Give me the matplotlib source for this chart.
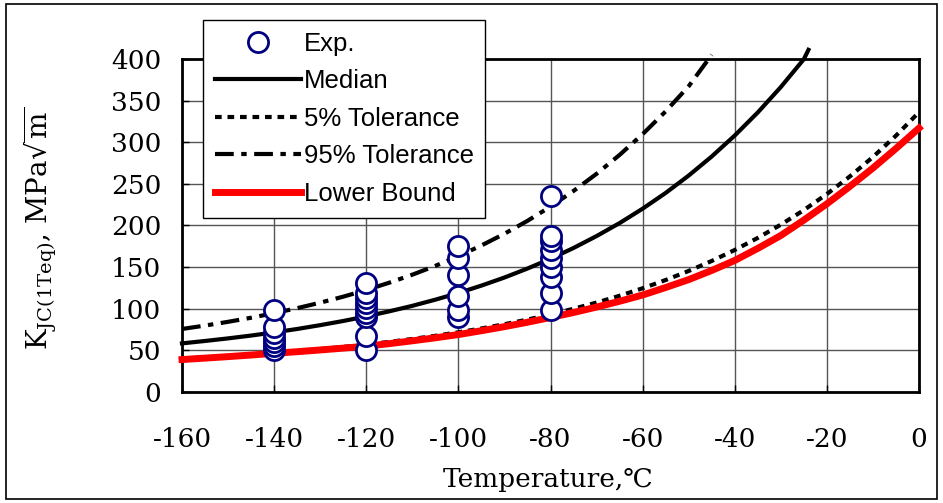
import matplotlib
matplotlib.use('Agg')
import matplotlib.pyplot as plt
from matplotlib.patches import Rectangle

# ---------------- data ----------------
temp_5 = list(range(-160, 1, 5))  # -160 ... 0 step 5

median_T = list(range(-160, -24, 5)) + [-24]
median_K = [58.4, 61.3, 64.4, 67.8, 71.6, 75.7, 80.3, 85.3, 90.8, 96.9,
            103.5, 110.9, 118.9, 127.8, 137.5, 148.3, 160.0, 173.0, 187.3, 202.9,
            220.2, 239.1, 260.0, 282.9, 308.1, 335.8, 366.3, 399.8, 411.0]

tol5_T = temp_5
tol5_K = [40.1, 41.6, 43.2, 45.0, 46.9, 49.1, 51.5, 54.1, 57.0, 60.2,
          63.7, 67.5, 71.7, 76.3, 81.4, 87.0, 93.2, 100.0, 107.4, 115.6,
          124.6, 134.5, 145.4, 157.4, 170.6, 185.1, 201.0, 218.5, 237.8, 259.0,
          282.3, 307.9, 336.1]

tol95_T = list(range(-160, -44, 5))
tol95_K = [75.7, 79.8, 84.3, 89.2, 94.7, 100.7, 107.3, 114.5, 122.5, 131.3,
           140.9, 151.5, 163.2, 176.0, 190.1, 205.6, 222.7, 241.5, 262.1, 284.8,
           309.7, 337.1, 367.3, 405.0]

lb_T = temp_5
lb_K = [39.0, 40.7, 42.5, 44.4, 46.5, 48.4, 50.5, 52.7, 55.0, 58.1,
        61.5, 65.1, 69.0, 73.6, 78.5, 83.8, 89.5, 95.5, 102.0, 109.0,
        116.5, 125.5, 135.0, 146.0, 158.0, 172.5, 188.0, 206.5, 226.0, 247.0,
        269.0, 292.5, 317.0]

exp_T = [-140] * 7 + [-120] * 9 + [-100] * 6 + [-80] * 9
exp_K = [50, 55, 60, 65, 71, 78, 98,
         51, 67, 90, 95, 101, 107, 113, 119, 131,
         90, 98, 115, 140, 161, 175,
         99, 119, 138, 150, 161, 171, 181, 187, 235]

x_ticks = [-160, -140, -120, -100, -80, -60, -40, -20, 0]
y_ticks = [0, 50, 100, 150, 200, 250, 300, 350, 400]

labels = ['Exp.', 'Median', '5% Tolerance', '95% Tolerance', 'Lower Bound']

# ---------------- figure ----------------
plt.rcParams['font.family'] = ['DejaVu Serif', 'DejaVu Sans']
plt.rcParams['mathtext.fontset'] = 'dejavuserif'

W, H = 943, 503
fig = plt.figure(figsize=(W / 100, H / 100), dpi=100)
ax = fig.add_axes([182 / W, 1 - 392 / H, (919 - 182) / W, (392 - 59) / H])

h_med, = ax.plot(median_T, median_K, color='black', lw=3.0, zorder=3,
                 clip_on=False, label=labels[1])
h_5, = ax.plot(tol5_T, tol5_K, color='black', lw=3.0, dashes=(1.6, 1.4),
               zorder=3, clip_on=False, label=labels[2])
h_95, = ax.plot(tol95_T, tol95_K, color='black', lw=3.0,
                dashes=(4.5, 1.8, 1.3, 1.8), zorder=3, clip_on=False,
                label=labels[3])
h_lb, = ax.plot(lb_T, lb_K, color='#ff0000', lw=5.0, zorder=3,
                clip_on=False, label=labels[4])
h_exp, = ax.plot(exp_T, exp_K, linestyle='none', marker='o', ms=14.5,
                 mfc='white', mec='#000080', mew=2.0, zorder=5,
                 clip_on=False, label=labels[0])

ax.set_xlim(-160, 0)
ax.set_ylim(0, 400)
ax.set_xticks(x_ticks)
ax.set_yticks(y_ticks)
ax.set_xticklabels([str(v) for v in x_ticks])
ax.grid(True, color='#555555', lw=1.0, zorder=0)
ax.set_axisbelow(True)
ax.tick_params(axis='both', direction='in', length=5, width=1,
               labelsize=19)
ax.tick_params(axis='x', pad=25)
ax.tick_params(axis='y', pad=15)
for sp in ax.spines.values():
    sp.set_linewidth(2.0)
    sp.set_color('black')

leg = fig.legend([h_exp, h_med, h_5, h_95, h_lb], labels,
                 loc='upper left', bbox_to_anchor=(203 / W, 1 - 20 / H),
                 bbox_transform=fig.transFigure,
                 prop={'family': 'Liberation Sans', 'size': 18.5},
                 frameon=True, fancybox=False, edgecolor='black',
                 framealpha=1, borderpad=0.45, labelspacing=0.53,
                 handlelength=3.35, handletextpad=0.12, borderaxespad=0,
                 numpoints=1)
leg.get_frame().set_linewidth(1.0)

fig.text(548 / W, 1 - 479 / H, 'Temperature,\u2103', ha='center',
         va='center', fontsize=19)
fig.text(40 / W, 1 - 228 / H,
         r'K$_{\mathrm{JC(1Teq)}}$, MPa$\sqrt{\mathrm{m}}$',
         ha='center', va='center', rotation=90, fontsize=20)

fig.patches.append(Rectangle((6 / W, 4 / H), (937 - 6) / W, (499 - 4) / H,
                             transform=fig.transFigure, fill=False,
                             ec='black', lw=1.2))

fig.savefig('out.png', dpi=100)
